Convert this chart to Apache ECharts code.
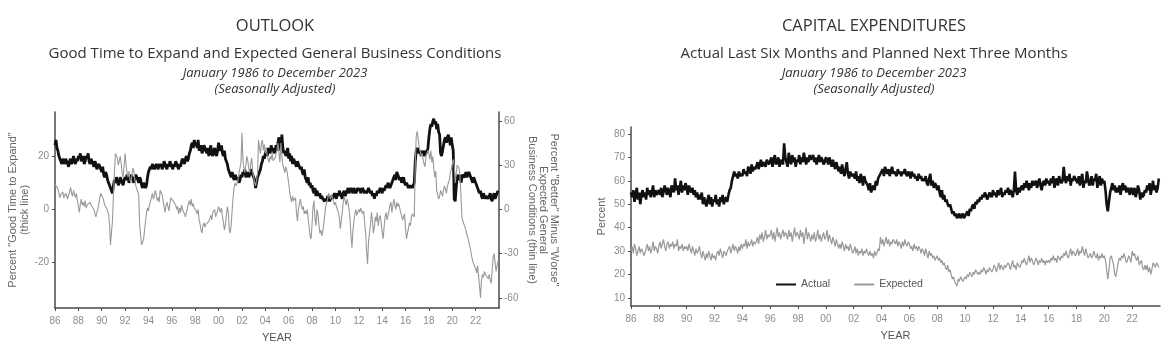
<!DOCTYPE html>
<html>
<head>
<meta charset="utf-8">
<script src="https://cdn.jsdelivr.net/npm/echarts@6/dist/echarts.min.js"></script>
<style>
html,body{margin:0;padding:0;background:#fff;}
#chart{width:1172px;height:360px;}
</style>
</head>
<body>
<div id="chart"></div>
<script>
// ---------- DATA (monthly, Jan 1986 - Dec 2023) ----------
const startYear = 1986;
const xTickYears = [1986,1988,1990,1992,1994,1996,1998,2000,2002,2004,2006,2008,2010,2012,2014,2016,2018,2020,2022];
const leftTicksGood = [-20,0,20];
const rightTicksExpected = [-60,-30,0,30,60];
const capexTicks = [10,20,30,40,50,60,70,80];

// Percent "Good Time to Expand" (thick line, left axis)
const goodTimeToExpand = [
 24,26,23,22,20,19,18,17,19,18,17,19,
 18,17,16,18,19,17,18,20,18,17,19,18,
 20,19,21,18,19,20,17,18,20,19,21,18,
 17,19,18,17,16,18,17,15,16,17,16,15,
 14,16,13,12,14,13,11,10,9,8,7,6,
 9,11,10,12,11,9,10,12,11,10,9,11,
 12,11,13,12,10,11,13,12,11,10,12,13,
 12,11,10,12,11,9,8,10,9,8,9,12,
 14,15,16,15,17,16,15,16,17,16,15,17,
 16,17,15,16,18,17,16,15,17,16,18,17,
 16,15,17,16,18,17,16,15,17,16,18,19,
 18,17,19,20,18,19,21,22,24,25,23,26,
 24,25,23,26,22,23,24,21,22,24,23,22,
 21,23,20,22,24,21,20,22,23,21,20,22,
 25,23,22,24,21,20,22,19,18,17,15,14,
 13,12,14,12,11,13,12,11,12,10,11,13,
 12,14,13,15,12,13,14,12,13,15,14,13,
 12,11,8,10,12,13,14,15,17,18,20,19,
 21,22,20,23,22,21,24,22,23,21,22,24,
 22,25,27,24,22,28,23,21,22,20,21,23,
 19,21,18,20,17,19,18,17,16,18,17,16,
 15,16,14,13,15,12,11,10,12,9,10,8,
 9,7,6,8,5,7,6,5,6,4,5,4,
 4,3,4,3,5,4,3,4,5,4,5,6,
 5,4,6,5,7,6,5,4,6,7,5,6,
 7,8,6,7,8,7,6,8,7,6,7,8,
 7,8,6,7,8,7,6,7,6,7,8,7,
 6,7,5,6,4,6,5,7,6,7,8,7,
 6,8,7,8,9,8,10,9,8,9,10,11,
 12,13,11,14,13,12,11,12,10,11,12,10,
 9,10,9,8,9,8,9,8,8,10,18,22,
 23,22,21,22,20,21,22,20,21,22,21,23,
 27,30,32,31,33,34,32,33,30,32,29,28,
 21,20,22,24,26,27,25,27,28,26,24,27,
 24,22,4,3,8,12,13,11,13,10,12,13,
 13,12,14,12,13,14,13,12,11,10,12,11,
 10,9,8,7,6,7,5,4,6,5,4,5,
 5,4,5,6,4,3,5,6,4,5,6,7
];

// Percent "Better" minus "Worse" Expected General Business Conditions (thin line, right axis)
const expectedConditions = [
 17,16,18,14,11,8,10,9,12,8,9,11,
 9,7,10,12,15,11,9,13,10,8,11,6,
 2,-2,4,7,3,5,2,6,1,3,4,2,
 5,3,2,4,0,-3,-5,-2,0,4,8,11,
 10,8,6,3,2,1,2,-3,-10,-24,-15,-8,
 10,25,38,37,35,30,29,36,31,24,22,30,
 38,30,25,22,26,20,18,24,28,26,20,16,
 15,12,10,-11,-18,-24,-25,-20,-14,-8,-2,1,
 -1,3,2,8,11,7,9,13,10,6,8,5,
 13,12,10,6,2,-2,3,5,2,-1,4,8,
 9,6,5,7,3,0,2,-3,1,-2,3,0,
 -1,-3,-5,-2,1,4,6,3,7,2,4,1,
 2,-1,-3,0,-7,-10,-14,-16,-11,-9,-12,-10,
 -9,-11,-8,-6,-4,-7,-2,-3,0,-5,-3,-1,
 2,0,-2,1,-5,-9,-14,-10,-4,2,-2,-14,
 -16,-10,0,9,15,18,16,17,20,25,28,32,
 52,34,28,25,30,36,33,28,25,31,35,26,
 22,18,16,20,24,47,42,38,45,47,40,44,
 38,42,36,35,32,36,34,38,33,32,35,36,
 40,45,38,32,45,36,30,28,25,29,27,26,
 18,12,8,5,9,6,5,8,-2,-8,0,4,
 7,3,0,2,-3,-1,-3,0,-6,-12,-18,-20,
 -10,2,6,-6,-11,0,-3,-10,-16,-14,-18,-15,
 -10,-4,2,5,7,11,9,7,10,8,5,3,
 5,2,0,-2,-5,-13,-8,-2,5,9,6,3,
 7,4,0,-6,-18,-26,-14,-8,-3,0,-4,-2,
 0,-2,1,0,-3,-1,0,-16,-28,-37,-22,-16,
 -10,-2,-8,-16,-12,-5,-8,-2,-11,-6,-4,-9,
 -15,-20,-12,-5,-2,-7,-4,-1,3,5,-2,3,
 7,3,0,5,2,4,3,-2,-4,-7,-5,-3,
 -13,-20,-16,-13,-9,-11,-5,-3,-2,-5,30,50,
 53,48,42,40,36,38,34,31,29,36,38,40,
 38,34,40,32,36,28,22,26,13,10,7,9,
 13,11,9,13,16,14,11,16,15,20,25,27,
 27,34,30,18,24,30,31,28,22,8,-6,-8,
 -8,-12,-14,-17,-19,-22,-25,-28,-32,-35,-37,-38,
 -40,-43,-38,-45,-52,-60,-48,-44,-46,-42,-44,-43,
 -45,-47,-44,-48,-50,-49,-32,-30,-36,-42,-38,-35
];

// Capital expenditures: Actual last six months (percent)
const capexActual = [
 55,53,56,51,54,57,52,55,50,54,56,53,
 55,52,57,54,56,53,55,58,53,56,54,55,
 56,54,57,53,55,58,56,54,57,55,53,58,
 57,55,61,56,58,54,57,60,55,58,56,59,
 57,54,58,56,55,57,54,56,53,55,52,54,
 52,55,50,53,51,49,52,54,50,53,49,52,
 51,54,50,52,49,53,51,54,50,52,53,51,
 54,56,57,60,62,64,62,63,61,64,62,63,
 62,65,63,64,62,66,65,63,67,64,66,65,
 66,68,65,67,69,66,68,67,66,69,68,67,
 67,70,66,69,71,67,68,70,66,69,68,67,
 76,70,68,66,72,69,67,71,68,70,66,69,
 68,71,67,70,68,72,69,67,70,68,71,69,
 69,71,68,70,67,69,71,68,70,69,67,68,
 70,69,67,70,68,66,69,67,65,68,66,64,
 66,63,67,64,62,65,68,63,61,64,62,63,
 63,61,64,60,62,59,63,61,58,62,60,59,
 58,56,59,55,57,58,56,60,58,61,62,63,
 63,65,62,66,64,63,65,62,64,66,63,64,
 64,62,65,63,64,62,64,63,65,63,62,64,
 63,61,64,62,63,61,62,60,63,61,62,60,
 61,60,62,59,58,61,63,58,60,57,59,58,
 56,58,55,53,56,52,54,51,52,50,49,50,
 48,46,47,45,46,44,45,46,44,45,46,44,
 45,46,47,45,48,47,49,50,48,51,50,52,
 51,53,52,54,53,55,54,52,53,55,54,53,
 56,54,55,53,56,54,55,57,53,55,54,56,
 55,57,54,56,55,53,56,64,56,54,57,55,
 57,58,56,59,57,60,58,56,59,57,60,58,
 58,60,57,59,61,58,56,59,60,58,61,59,
 60,58,61,59,62,57,60,61,58,62,60,59,
 60,66,61,59,62,60,63,58,61,60,62,61,
 60,59,62,58,61,63,57,60,59,64,61,58,
 59,62,58,61,60,63,57,60,62,58,61,59,
 60,56,50,47,51,55,57,59,56,58,55,57,
 55,58,54,57,59,56,58,55,57,56,54,57,
 56,54,57,53,55,58,56,52,55,53,54,56,
 55,58,56,59,54,57,60,56,58,55,57,61
];

// Capital expenditures: Expected (planned next three months)
const capexExpected = [
 30,32,29,33,31,28,30,32,29,31,30,28,
 29,31,33,30,32,29,31,34,30,32,31,29,
 32,34,31,33,35,32,30,33,34,31,33,32,
 34,31,33,32,35,30,32,31,33,30,32,31,
 32,30,33,31,29,32,30,28,31,29,30,32,
 29,27,30,28,26,29,27,30,28,26,29,27,
 28,26,29,30,28,31,29,27,30,29,28,30,
 30,32,29,31,33,30,32,31,29,32,30,33,
 31,33,32,35,31,34,32,33,35,32,34,33,
 34,36,33,37,35,38,34,36,39,35,37,36,
 37,39,35,38,34,37,40,36,38,35,37,39,
 36,38,37,35,39,36,38,34,37,40,36,38,
 37,35,39,36,38,33,37,40,35,38,36,34,
 37,35,38,34,36,39,35,37,34,36,38,35,
 36,39,34,37,35,33,36,34,32,35,33,31,
 33,31,34,32,30,33,31,32,30,33,31,29,
 30,32,29,31,28,30,29,31,28,30,29,31,
 29,28,30,28,29,27,30,28,29,31,30,36,
 33,35,32,34,36,33,35,32,34,33,35,34,
 33,35,32,34,33,31,34,32,35,33,32,34,
 33,31,32,30,33,31,32,30,32,31,29,31,
 30,28,31,29,27,30,28,29,27,28,26,27,
 28,26,27,25,26,24,25,23,22,24,21,22,
 20,18,19,17,16,15,18,17,19,18,17,18,
 19,18,20,19,21,20,19,21,20,22,21,20,
 21,20,22,21,23,22,20,22,21,23,22,21,
 22,24,23,21,23,25,22,24,23,22,24,23,
 23,25,24,22,24,26,23,24,22,25,24,23,
 24,26,25,27,25,24,26,28,25,27,26,24,
 25,27,26,24,26,25,27,25,26,24,26,25,
 26,25,27,26,28,26,27,25,28,27,26,28,
 27,29,28,30,28,27,29,31,28,30,29,28,
 29,31,28,30,29,32,30,28,31,29,27,28,
 29,27,28,30,28,27,29,26,28,27,29,27,
 28,26,22,18,22,27,28,26,24,20,19,22,
 25,27,26,28,27,29,27,25,26,28,27,25,
 30,28,29,27,26,28,24,25,26,23,22,24,
 22,24,21,23,20,22,25,24,23,25,24,23
];

// ---------- BUILD ----------
function toPairs(arr){ return arr.map((v,i)=>[startYear + i/12, v]); }

const axisLineColor = '#4a4a4a';
const labelColor = '#8c8c8c';
const nameColor = '#666';
const fontAxis = 'Liberation Sans, Arial, sans-serif';
const fontTitle = '"Open Sans", "Noto Sans", sans-serif';

function xAxisCfg(gridIndex){
  return {
    type:'value', gridIndex, min:1986, max:2024,
    name:'YEAR', nameLocation:'middle', nameGap:24,
    nameTextStyle:{color:'#555', fontSize:11, fontFamily:fontAxis},
    splitLine:{show:false},
    axisLine:{show:true, onZero:false, lineStyle:{color:axisLineColor, width:1.5}},
    axisTick:{show:true, length:3, customValues:xTickYears, lineStyle:{color:axisLineColor}},
    axisLabel:{customValues:xTickYears, color:labelColor, fontSize:10, fontFamily:fontAxis, margin:8,
      formatter:v=>String(Math.round(v)).slice(2)}
  };
}

function titleBlock(cx, main, mainSize, sub){
  return [
    {text:main, left:cx, top:13, textAlign:'center',
     textStyle:{fontFamily:fontTitle, fontSize:mainSize, fontWeight:'normal', color:'#333'}},
    {text:sub, left:cx, top:41, textAlign:'center',
     textStyle:{fontFamily:fontTitle, fontSize:15, fontWeight:'normal', color:'#333'}},
    {text:'January 1986 to December 2023', left:cx, top:62, textAlign:'center',
     textStyle:{fontFamily:fontTitle, fontSize:13, fontStyle:'italic', fontWeight:'normal', color:'#333'}},
    {text:'(Seasonally Adjusted)', left:cx, top:78, textAlign:'center',
     textStyle:{fontFamily:fontTitle, fontSize:13, fontStyle:'italic', fontWeight:'normal', color:'#333'}}
  ];
}

const option = {
  backgroundColor:'#fff',
  animation:false,
  title:[
    ...titleBlock(270, 'OUTLOOK', 16.5, 'Good Time to Expand and Expected General Business Conditions'),
    ...titleBlock(869, 'CAPITAL EXPENDITURES', 16.5, 'Actual Last Six Months and Planned Next Three Months')
  ],
  legend:{
    left:770, top:274, itemWidth:20, itemHeight:10, itemGap:23,
    itemStyle:{opacity:0},
    textStyle:{color:'#555', fontSize:10.5, fontFamily:fontAxis},
    data:['Actual','Expected']
  },
  grid:[
    {left:55, right:673, top:112, bottom:52},
    {left:631, right:12, top:127, bottom:54}
  ],
  xAxis:[xAxisCfg(0), xAxisCfg(1)],
  yAxis:[
    {type:'value', gridIndex:0, position:'left', min:-37, max:36.5,
     name:'Percent "Good Time to Expand"\n(thick line)', nameLocation:'middle', nameGap:24,
     nameTextStyle:{color:nameColor, fontSize:11, fontFamily:fontAxis, lineHeight:12},
     splitLine:{show:false},
     axisLine:{show:true, lineStyle:{color:axisLineColor, width:1.5}},
     axisTick:{show:true, length:3, customValues:leftTicksGood, lineStyle:{color:axisLineColor}},
     axisLabel:{customValues:leftTicksGood, color:labelColor, fontSize:10, fontFamily:fontAxis, margin:6}},
    {type:'value', gridIndex:0, position:'right', min:-66.8, max:66.1,
     name:'Percent "Better" Minus "Worse"\nExpected General\nBusiness Conditions (thin line)',
     nameLocation:'middle', nameGap:28, nameRotate:-90,
     nameTextStyle:{color:nameColor, fontSize:11, fontFamily:fontAxis, lineHeight:11},
     splitLine:{show:false},
     axisLine:{show:true, lineStyle:{color:axisLineColor, width:1.5}},
     axisTick:{show:true, length:3, customValues:rightTicksExpected, lineStyle:{color:axisLineColor}},
     axisLabel:{customValues:rightTicksExpected, color:labelColor, fontSize:10, fontFamily:fontAxis, margin:5}},
    {type:'value', gridIndex:1, position:'left', min:6.5, max:83,
     name:'Percent', nameLocation:'middle', nameGap:24,
     nameTextStyle:{color:nameColor, fontSize:11, fontFamily:fontAxis},
     splitLine:{show:false},
     axisLine:{show:true, lineStyle:{color:axisLineColor, width:1.5}},
     axisTick:{show:true, length:3, customValues:capexTicks, lineStyle:{color:axisLineColor}},
     axisLabel:{customValues:capexTicks, color:labelColor, fontSize:10, fontFamily:fontAxis, margin:6}}
  ],
  series:[
    {name:'Good Time to Expand', type:'line', xAxisIndex:0, yAxisIndex:0, data:toPairs(goodTimeToExpand),
     showSymbol:false, symbol:'none', lineStyle:{color:'#111', width:2.8}, itemStyle:{color:'#111'}, z:2},
    {name:'Expected Business Conditions', type:'line', xAxisIndex:0, yAxisIndex:1, data:toPairs(expectedConditions),
     showSymbol:false, symbol:'none', lineStyle:{color:'#999', width:1.1}, itemStyle:{color:'#999'}, z:3},
    {name:'Actual', type:'line', xAxisIndex:1, yAxisIndex:2, data:toPairs(capexActual),
     showSymbol:false, symbol:'none', lineStyle:{color:'#111', width:2.6}, itemStyle:{color:'#111'}},
    {name:'Expected', type:'line', xAxisIndex:1, yAxisIndex:2, data:toPairs(capexExpected),
     showSymbol:false, symbol:'none', lineStyle:{color:'#999', width:1.2}, itemStyle:{color:'#999'}}
  ]
};

const chart = echarts.init(document.getElementById('chart'), null, {renderer:'canvas'});
chart.setOption(option);
</script>
</body>
</html>
